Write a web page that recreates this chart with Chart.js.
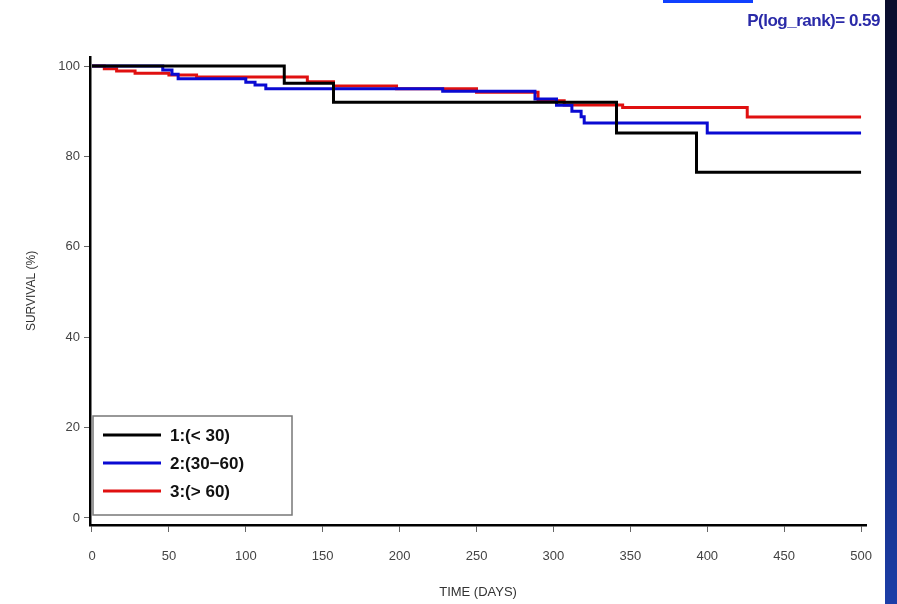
<!DOCTYPE html>
<html>
<head>
<meta charset="utf-8">
<script src="https://cdn.jsdelivr.net/npm/chart.js@4"></script>
<style>
  html, body { margin: 0; padding: 0; background: #fff; }
  #wrap { position: relative; width: 897px; height: 604px; overflow: hidden; background: #fff; }
  #chart-box { position: absolute; left: 0; top: 0; width: 889px; height: 604px; }
  #side-bar { position: absolute; left: 885px; top: 0; width: 12px; height: 604px; background: linear-gradient(#0a0d2c, #12236e 60%, #1c3ea8); }
  #link-line { position: absolute; left: 663px; top: 0; width: 90px; height: 3px; background: #1040ff; }
  #pvalue { position: absolute; right: 17px; top: 11px; font: bold 17px 'Liberation Sans', Arial, sans-serif; color: #2a2aa8; letter-spacing: -0.5px; }
</style>
</head>
<body>
<div id="wrap">
  <div id="chart-box"><canvas id="chart"></canvas></div>
  <div id="side-bar"></div>
  <div id="link-line"></div>
  <div id="pvalue">P(log_rank)= 0.59</div>
</div>
<script>
// Kaplan-Meier curves (days, survival %)
const groupLabels = ['1:(< 30)', '2:(30\u221260)', '3:(> 60)'];
const groupColors = ['#000000', '#0a0ad2', '#e01010'];

const group1Days = [0, 125, 157, 341, 393, 500];
const group1Surv = [100, 96.2, 92.0, 85.2, 76.5, 76.5];

const group2Days = [0, 46, 52, 56, 100, 106, 113, 228, 288, 302, 312, 318, 320, 400, 500];
const group2Surv = [100, 99.1, 98.2, 97.2, 96.4, 95.8, 95.0, 94.4, 92.7, 91.3, 90.0, 88.8, 87.4, 85.2, 85.2];

const group3Days = [0, 8, 16, 28, 50, 68, 140, 157, 198, 250, 290, 307, 345, 426, 500];
const group3Surv = [100, 99.4, 98.9, 98.4, 98.0, 97.6, 96.5, 95.6, 95.0, 94.2, 92.3, 91.4, 90.8, 88.7, 88.7];

const xTicks = [0, 50, 100, 150, 200, 250, 300, 350, 400, 450, 500];
const yTicks = [0, 20, 40, 60, 80, 100];

const toPoints = (days, surv) => days.map((d, i) => ({ x: d, y: surv[i] }));
const seriesData = [
  toPoints(group1Days, group1Surv),
  toPoints(group2Days, group2Surv),
  toPoints(group3Days, group3Surv),
];

// legend drawn inside the plot, bottom-left, like the original
const boxLegend = {
  id: 'boxLegend',
  afterDraw(chart) {
    const ctx = chart.ctx;
    const x0 = 93, y0 = 416, w = 199, h = 99;
    ctx.save();
    ctx.fillStyle = '#fff';
    ctx.fillRect(x0, y0, w, h);
    ctx.strokeStyle = '#777';
    ctx.lineWidth = 1.5;
    ctx.strokeRect(x0, y0, w, h);
    ctx.font = 'bold 17px "Liberation Sans", Arial, sans-serif';
    ctx.textBaseline = 'middle';
    chart.data.datasets.forEach((ds, i) => {
      const y = y0 + 19 + i * 28;
      ctx.strokeStyle = ds.borderColor;
      ctx.lineWidth = 3;
      ctx.beginPath();
      ctx.moveTo(103, y);
      ctx.lineTo(161, y);
      ctx.stroke();
      ctx.fillStyle = '#111';
      ctx.fillText(ds.label, 170, y + 1);
    });
    ctx.restore();
  },
};

new Chart(document.getElementById('chart'), {
  type: 'line',
  data: {
    datasets: seriesData.map((pts, i) => ({
      label: groupLabels[i],
      data: pts,
      borderColor: groupColors[i],
      backgroundColor: groupColors[i],
      borderWidth: 3,
      stepped: 'before',
      pointRadius: 0,
      fill: false,
    })),
  },
  options: {
    responsive: true,
    maintainAspectRatio: false,
    animation: false,
    layout: { padding: { top: 57, right: 15, left: 20, bottom: 0 } },
    plugins: { legend: { display: false }, tooltip: { enabled: false } },
    scales: {
      x: {
        type: 'linear',
        min: -1.3,
        max: 503.3,
        afterBuildTicks: (s) => { s.ticks = xTicks.map((v) => ({ value: v })); },
        afterFit: (s) => { s.height = 79; },
        ticks: { color: '#444', font: { family: 'Liberation Sans, Arial, sans-serif', size: 13 }, padding: 17, maxRotation: 0 },
        grid: { drawOnChartArea: false, drawTicks: true, tickLength: 7, color: '#666', lineWidth: 1 },
        border: { display: true, color: '#000', width: 2.5 },
        title: { display: true, text: 'TIME (DAYS)', color: '#333', font: { family: 'Liberation Sans, Arial, sans-serif', size: 13 }, padding: { top: 12 } },
      },
      y: {
        type: 'linear',
        min: -1.55,
        max: 102,
        afterBuildTicks: (s) => { s.ticks = yTicks.map((v) => ({ value: v })); },
        afterFit: (s) => { s.width = 70; },
        ticks: { color: '#444', font: { family: 'Liberation Sans, Arial, sans-serif', size: 13 }, padding: 4 },
        grid: { drawOnChartArea: false, drawTicks: true, tickLength: 6, color: '#666', lineWidth: 1 },
        border: { display: true, color: '#000', width: 2.5 },
        title: { display: true, text: 'SURVIVAL (%)', color: '#333', font: { family: 'Liberation Sans, Arial, sans-serif', size: 12 }, padding: { bottom: 4 } },
      },
    },
  },
  plugins: [boxLegend],
});
</script>
</body>
</html>
